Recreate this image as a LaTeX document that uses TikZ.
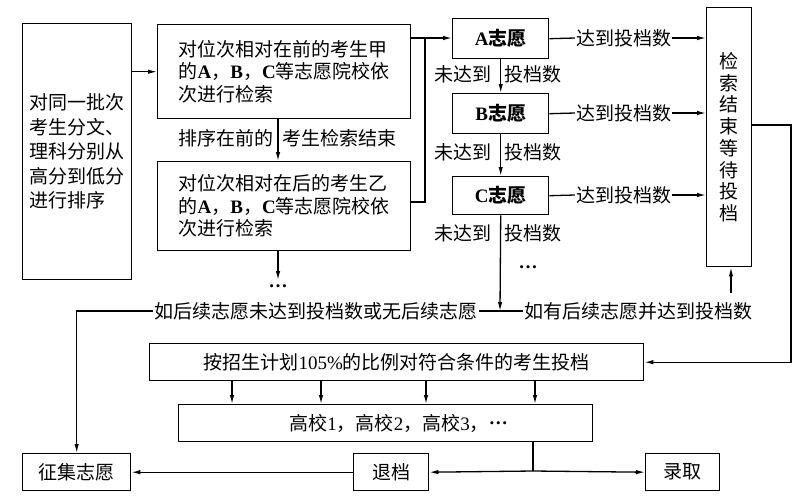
\documentclass[tikz,border=0pt]{standalone}
\usepackage{fontspec}
\setmainfont{Noto Sans CJK SC}
\newfontfamily\lat{Liberation Serif}
\usetikzlibrary{arrows.meta}
\tikzset{
  txt/.style={font=\fontsize{19}{22.5}\selectfont},
  box/.style={txt, draw, line width=1.4pt, inner sep=0pt, anchor=north west, align=left},
  boldbox/.style={box, align=center, font=\fontsize{19}{22.5}\selectfont\bfseries},
  lbl/.style={txt, inner sep=1pt},
  ln/.style={line width=1.3pt},
  arr/.style={-{Latex[length=9pt,width=4.5pt]}}
}
\newcommand{\la}[1]{{\lat\bfseries #1}}
\newcommand{\mydots}{\raisebox{0.28em}{\lat\bfseries …}}
\begin{document}
\begin{tikzpicture}[x=1pt,y=-1pt]
\useasboundingbox (0,0) rectangle (800,499);
\fill[white] (0,0) rectangle (800,499);
% boxes
\node[box, minimum width=109pt, minimum height=256pt, font=\fontsize{19}{24.5}\selectfont] (L) at (22,23) {对同一批次\\考生分文、\\理科分别从\\高分到低分\\进行排序};
\node[box, minimum width=253pt, minimum height=94pt] (J) at (157,24) {对位次相对在前的考生甲\\的\la{A}，\la{B}，\la{C}等志愿院校依\\次进行检索};
\node[box, minimum width=253pt, minimum height=89pt] (Y) at (157,161) {对位次相对在后的考生乙\\的\la{A}，\la{B}，\la{C}等志愿院校依\\次进行检索};
\node[boldbox, minimum width=96pt, minimum height=40pt] (A) at (452,18) {\la{A}志愿};
\node[boldbox, minimum width=96pt, minimum height=40pt] (B) at (452,93) {\la{B}志愿};
\node[boldbox, minimum width=96pt, minimum height=38pt] (C) at (452,176) {\la{C}志愿};
\node[box, align=center, minimum width=45pt, minimum height=259pt, font=\fontsize{19}{21.7}\selectfont] (R) at (706,7) {检\\索\\结\\束\\等\\待\\投\\档};
\node[box, align=center, minimum width=494pt, minimum height=37pt] (T) at (149,343) {按招生计划{\lat 105\%}的比例对符合条件的考生投档};
\node[box, align=center, minimum width=414pt, minimum height=37pt] (G) at (178,404) {\hspace*{26pt}高校{\lat 1}，高校{\lat 2}，高校{\lat 3}，\mydots};
\node[box, align=center, minimum width=108pt, minimum height=37pt] (Z) at (22,453) {征集志愿};
\node[box, align=center, minimum width=75pt, minimum height=37pt] (D) at (353,453) {退档};
\node[box, align=center, minimum width=74pt, minimum height=37pt] (Q) at (645,453) {录取};
% labels
\node[lbl, anchor=east] (s1) at (275,138) {排序在前的};
\node[lbl, anchor=west] (s2) at (281,138) {考生检索结束};
\node[lbl, anchor=east] (na1) at (493,74) {未达到};
\node[lbl, anchor=west] (nb1) at (503,74) {投档数};
\node[lbl, anchor=east] (na2) at (493,152) {未达到};
\node[lbl, anchor=west] (nb2) at (503,152) {投档数};
\node[lbl, anchor=east] (na3) at (493,233) {未达到};
\node[lbl, anchor=west] (nb3) at (503,233) {投档数};
\node[lbl] (ra) at (623.5,38) {达到投档数};
\node[lbl] (rb) at (623.5,113) {达到投档数};
\node[lbl] (rc) at (623.5,195) {达到投档数};
\node[lbl] (m1) at (316,311) {如后续志愿未达到投档数或无后续志愿};
\node[lbl] (m2) at (638.5,311) {如有后续志愿并达到投档数};
\node[lbl] (d1) at (278,289) {\mydots};
\node[lbl] (d2) at (528,270) {\mydots};
% coordinates
\coordinate (xa) at (278,0);
\coordinate (ye) at (278,280);
\coordinate (jn) at (425,38);
\coordinate (jb) at (425,202);
\coordinate (cd) at (500,311);
\coordinate (ru) at (731,293);
\coordinate (rr) at (791,125);
\coordinate (gb) at (533,471);
\coordinate (k1) at (232,0);
\coordinate (k2) at (321,0);
\coordinate (k3) at (426,0);
\coordinate (k4) at (535,0);
% connectors
\draw[ln,arr] (L.east |- J.west) -- (J.west);
\draw[ln,arr] (J.south -| xa) -- (Y.north -| xa);
\draw[ln,arr] (Y.south -| ye) -- (ye);
\draw[ln,arr] (J.east |- jn) -- (A.west |- jn);
\draw[ln] (Y.east |- jb) -- (jb) -- (jn);
\draw[ln,arr] (A.south) -- (B.north);
\draw[ln,arr] (B.south) -- (C.north);
\draw[ln,arr] (C.south) -- (cd);
\draw[ln] (A.east) -- (ra.west);
\draw[ln,arr] (ra.east) -- (ra.east -| R.west);
\draw[ln] (B.east) -- (rb.west);
\draw[ln,arr] (rb.east) -- (rb.east -| R.west);
\draw[ln] (C.east) -- (rc.west);
\draw[ln,arr] (rc.east) -- (rc.east -| R.west);
\draw[ln] (m1.east) -- (m2.west);
\draw[ln,arr] (m1.west) -| (Z.north);
\draw[ln,arr] (ru) -- (ru |- R.south);
\draw[ln,arr] (R.east |- rr) -- (rr) |- (T.east);
\foreach \k in {k1,k2,k3,k4} \draw[ln,arr] (T.south -| \k) -- (G.north -| \k);
\draw[ln] (G.south -| gb) -- (gb);
\draw[ln,arr] (gb) -- (D.east);
\draw[ln,arr] (gb) -- (Q.west);
\draw[ln,arr] (D.west) -- (Z.east);
\end{tikzpicture}
\end{document}
